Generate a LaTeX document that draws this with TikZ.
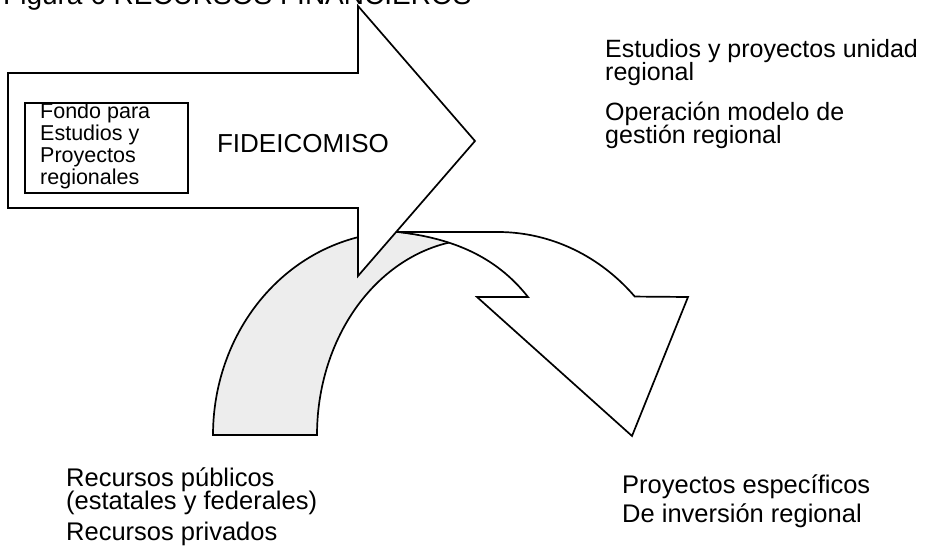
\documentclass[tikz,border=0pt]{standalone}
\usepackage{fontspec}
\setmainfont{Liberation Sans}
\begin{document}
\begin{tikzpicture}[x=1pt,y=-1pt,
  outline/.style={draw=black,line width=1.7pt,line join=miter},
  lbl/.style={inner sep=0pt,anchor=base west,font=\fontsize{25.5}{27}\selectfont},
  rlbl/.style={inner sep=0pt,anchor=base west,font=\fontsize{25}{27}\selectfont},
  boxlbl/.style={inner sep=0pt,anchor=base west,font=\fontsize{21.5}{22}\selectfont}]
\useasboundingbox (0,0) rectangle (929,553);
\clip (0,0) rectangle (929,553);
\fill[white] (0,0) rectangle (929,553);
% title (cut by the top edge, as in the reference)
\node[inner sep=0pt,anchor=base west,font=\fontsize{28}{30}\selectfont] (title) at (3,5) {Figura 6 RECURSOS FINANCIEROS};
% curved arrow: back part (shaded)
\draw[outline,fill=black!7] (213,435)
  -- plot[domain=180:90,samples=60] ({400+187*cos(\x)},{435-203*sin(\x)})
  -- (460,240.5)
  -- plot[domain=97:180,samples=60] ({480+163*cos(\x)},{435-196*sin(\x)})
  -- cycle;
% curved arrow: front part
\draw[outline,fill=white] (398,232) -- (498,232)
  -- plot[domain=90:43,samples=50] ({498+187*cos(\x)},{435-203*sin(\x)})
  -- (688,297) -- (632,436) -- (477,297) -- (528,297)
  .. controls (495,255) and (450,238) .. (398,232) -- cycle;
% big arrow
\draw[outline,fill=white] (8,73) -- (358,73) -- (358,6) -- (475,141)
  -- (358,276) -- (358,208) -- (8,208) -- cycle;
% inner box
\node[draw=black,line width=1.4pt,minimum width=163pt,minimum height=90pt,inner sep=0pt] (fondo) at (106.5,148) {};
\node[boxlbl] (f1) at (40,119) {Fondo para};
\node[boxlbl] (f2) at (40,141) {Estudios y};
\node[boxlbl] (f3) at (40,163) {Proyectos};
\node[boxlbl] (f4) at (40,185) {regionales};
\node[inner sep=0pt,anchor=base,font=\fontsize{26}{28}\selectfont] (fide) at (303,153) {FIDEICOMISO};
% right texts
\node[rlbl] (r1) at (605,58) {Estudios y proyectos unidad};
\node[rlbl] (r2) at (605,81) {regional};
\node[rlbl] (r3) at (605,121) {Operación modelo de};
\node[rlbl] (r4) at (605,144) {gestión regional};
% bottom left
\node[lbl] (b1) at (66,486) {Recursos públicos};
\node[lbl] (b2) at (66,509) {(estatales y federales)};
\node[lbl] (b3) at (66,540) {Recursos privados};
% bottom right
\node[lbl] (p1) at (622,493) {Proyectos específicos};
\node[lbl] (p2) at (622,522) {De inversión regional};
\end{tikzpicture}
\end{document}
